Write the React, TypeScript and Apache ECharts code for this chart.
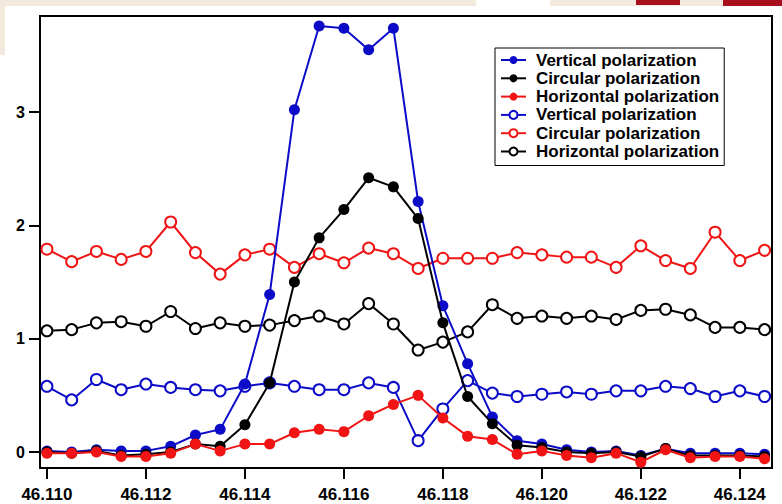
import React, { useEffect, useRef } from "react";
import * as echarts from "echarts";

const xValues = [
  46.110, 46.1105, 46.111, 46.1115, 46.112, 46.1125, 46.113, 46.1135, 46.114, 46.1145,
  46.115, 46.1155, 46.116, 46.1165, 46.117, 46.1175, 46.118, 46.1185, 46.119, 46.1195,
  46.120, 46.1205, 46.121, 46.1215, 46.122, 46.1225, 46.123, 46.1235, 46.124, 46.1245,
];

const xTicks = [46.110, 46.112, 46.114, 46.116, 46.118, 46.120, 46.122, 46.124];
const yTicks = [0, 1, 2, 3];

// filled markers
const verticalFilled = [
  0.01, 0.0, 0.02, 0.01, 0.01, 0.05, 0.15, 0.20, 0.60, 1.39,
  3.02, 3.76, 3.74, 3.55, 3.74, 2.21, 1.29, 0.78, 0.31, 0.10,
  0.07, 0.02, 0.0, 0.01, -0.03, 0.03, -0.01, -0.01, -0.01, -0.02,
];
const circularFilled = [
  0.0, -0.01, 0.01, -0.03, -0.02, 0.0, 0.07, 0.05, 0.24, 0.61,
  1.50, 1.89, 2.14, 2.42, 2.34, 2.06, 1.14, 0.49, 0.25, 0.06,
  0.04, 0.0, -0.01, 0.0, -0.04, 0.03, -0.03, -0.03, -0.03, -0.04,
];
const horizontalFilled = [
  -0.01, -0.01, 0.0, -0.04, -0.04, -0.01, 0.07, 0.01, 0.07, 0.07,
  0.17, 0.20, 0.18, 0.32, 0.42, 0.50, 0.30, 0.14, 0.11, -0.02,
  0.01, -0.03, -0.05, -0.01, -0.09, 0.02, -0.05, -0.04, -0.04, -0.06,
];

// open markers
const verticalOpen = [
  0.58, 0.46, 0.64, 0.55, 0.60, 0.57, 0.55, 0.54, 0.58, 0.61,
  0.58, 0.55, 0.55, 0.61, 0.57, 0.10, 0.38, 0.63, 0.52, 0.49,
  0.51, 0.53, 0.51, 0.54, 0.54, 0.58, 0.56, 0.49, 0.54, 0.49,
];
const circularOpen = [
  1.79, 1.68, 1.77, 1.70, 1.77, 2.03, 1.76, 1.57, 1.74, 1.79,
  1.63, 1.75, 1.67, 1.80, 1.75, 1.62, 1.71, 1.71, 1.71, 1.76,
  1.74, 1.72, 1.72, 1.63, 1.82, 1.69, 1.62, 1.94, 1.69, 1.78,
];
const horizontalOpen = [
  1.07, 1.08, 1.14, 1.15, 1.11, 1.24, 1.09, 1.14, 1.11, 1.12,
  1.16, 1.20, 1.13, 1.31, 1.13, 0.90, 0.97, 1.06, 1.30, 1.18,
  1.20, 1.18, 1.20, 1.17, 1.25, 1.26, 1.21, 1.10, 1.10, 1.08,
];

const BLUE = "#0c0cc8";
const RED = "#f01414";
const BLACK = "#000000";
const FONT = "'Liberation Sans', Arial, Helvetica, sans-serif";

const pairs = (vals: number[]) => xValues.map((x, i) => [x, vals[i]]);

export default function App() {
  const ref = useRef<HTMLDivElement>(null);

  useEffect(() => {
    if (!ref.current) return;
    const chart = echarts.init(ref.current, null, { renderer: "svg" });

    const openSeries = (name: string, color: string, vals: number[]) => ({
      name,
      type: "line",
      data: pairs(vals),
      symbol: "emptyCircle",
      symbolSize: 11,
      lineStyle: { color, width: 2 },
      itemStyle: { color, borderWidth: 1 },
      z: 2,
    });
    const filledSeries = (name: string, color: string, vals: number[], z: number) => ({
      name,
      type: "line",
      data: pairs(vals),
      symbol: "circle",
      symbolSize: 11,
      lineStyle: { color, width: 2 },
      itemStyle: { color },
      z,
    });

    chart.setOption({
      animation: false,
      backgroundColor: "#ffffff",
      graphic: [
        { type: "rect", shape: { x: 0, y: 0, width: 476, height: 6 }, style: { fill: "#f3eadd" }, silent: true },
        { type: "rect", shape: { x: 0, y: 0, width: 5, height: 55 }, style: { fill: "#f3eadd" }, silent: true },
        { type: "rect", shape: { x: 550, y: 0, width: 232, height: 6 }, style: { fill: "#f3eadd" }, silent: true },
        { type: "rect", shape: { x: 636, y: 0, width: 44, height: 5 }, style: { fill: "#a8101e" }, silent: true },
        { type: "rect", shape: { x: 723, y: 0, width: 59, height: 6 }, style: { fill: "#a8101e" }, silent: true },
      ],
      grid: {
        left: 40,
        right: 10,
        top: 16,
        bottom: 36,
        show: true,
        borderColor: "#000",
        borderWidth: 2,
        backgroundColor: "transparent",
      },
      legend: {
        orient: "vertical",
        left: 495,
        top: 48,
        padding: [3, 5, 5, 5],
        borderColor: "#000",
        borderWidth: 1,
        backgroundColor: "#fff",
        itemWidth: 25,
        itemHeight: 10,
        itemGap: 0.3,
        data: [
          "Vertical polarization",
          "Circular polarization",
          "Horizontal polarization",
          "Vertical polarization ",
          "Circular polarization ",
          "Horizontal polarization ",
        ],
        formatter: (name: string) => name.trim(),
        textStyle: {
          fontFamily: FONT,
          fontSize: 17,
          fontWeight: "bold",
          color: "#000",
          lineHeight: 18,
          padding: [0, 0, 0, 5],
        },
      },
      xAxis: {
        type: "value",
        min: 46.10986,
        max: 46.12465,
        splitLine: { show: false },
        axisLine: { show: true, onZero: false, lineStyle: { color: "#000", width: 2 } },
        axisTick: { show: true, length: 11, inside: false, lineStyle: { color: "#000", width: 2 }, customValues: xTicks },
        axisLabel: {
          customValues: xTicks,
          formatter: (v: number) => v.toFixed(3),
          fontFamily: FONT,
          fontSize: 17,
          fontWeight: "bold",
          color: "#000",
          margin: 18,
        },
      },
      yAxis: {
        type: "value",
        min: -0.141,
        max: 3.848,
        splitLine: { show: false },
        axisLine: { show: true, onZero: false, lineStyle: { color: "#000", width: 2 } },
        axisTick: { show: true, length: 11, inside: false, lineStyle: { color: "#000", width: 2 }, customValues: yTicks },
        axisLabel: {
          customValues: yTicks,
          formatter: (v: number) => String(Math.round(v)),
          fontFamily: FONT,
          fontSize: 16,
          fontWeight: "bold",
          color: "#000",
          margin: 15,
        },
      },
      series: [
        openSeries("Vertical polarization ", BLUE, verticalOpen),
        openSeries("Circular polarization ", RED, circularOpen),
        openSeries("Horizontal polarization ", BLACK, horizontalOpen),
        filledSeries("Vertical polarization", BLUE, verticalFilled, 3),
        filledSeries("Circular polarization", BLACK, circularFilled, 4),
        filledSeries("Horizontal polarization", RED, horizontalFilled, 5),
      ],
    });

    return () => chart.dispose();
  }, []);

  return (
    <div
      ref={ref}
      style={{ position: "absolute", left: 0, top: 0, width: 782, height: 504 }}
    />
  );
}
